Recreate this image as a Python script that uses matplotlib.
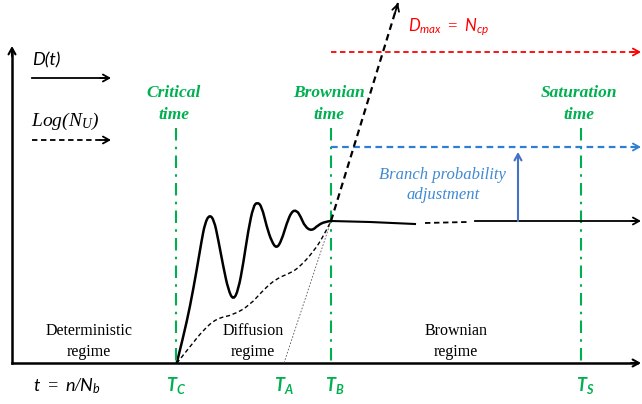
# -*- coding: utf-8 -*-
'''
Schematic of the regimes of D(t) and Log(N_U) versus time t = n/N_b
(deterministic, diffusion and Brownian regimes).
'''

import matplotlib.pyplot as plt
from matplotlib.path import Path
from matplotlib.patches import PathPatch

# =============================================================================
# schematic coordinates (x: time, y: down from the top)
# =============================================================================
t_c, t_a, t_b, t_s = 176, 284, 331, 581
y_base = 363
y_plateau = 221
y_dmax = 52
y_adjusted = 147
x_start, x_end = 12, 641
y_top = 46
y_marker_top = 128

# D(t): oscillating rise between T_C and T_B
d_x = [176.7, 183.3, 190.0, 196.7, 201.7, 205.0, 209.3, 214.0, 218.3, 223.3,
       228.3, 233.3, 238.3, 243.3, 248.3, 253.3, 257.3, 261.7, 266.7, 271.7,
       276.7, 281.7, 286.7, 291.7, 296.7, 300.7, 305.0, 311.7, 318.3, 325.0,
       331.0]
d_y = [363.3, 336.7, 306.7, 270.0, 240.0, 223.3, 214.7, 219.7, 240.0, 266.7,
       290.0, 300.3, 290.0, 263.3, 230.0, 206.3, 202.0, 206.3, 226.7, 241.7,
       248.7, 240.0, 223.3, 211.3, 210.3, 216.7, 226.7, 231.0, 225.0, 221.7,
       221.0]
# D(t) after T_B: plateau (solid, dashed, solid)
flat1_x, flat1_y = [331, 370, 415], [221, 222, 224]
flat2_x, flat2_y = [425, 467], [223, 222]
flat3_x, flat3_y = [475, 641], [221, 221]

# Log(N_U) in the diffusion regime
logn_x = [176.7, 190.0, 203.3, 216.7, 233.3, 250.0, 263.3, 276.7, 290.0,
          300.0, 313.3, 323.3, 331.0]
logn_y = [363.3, 346.7, 330.0, 318.3, 315.0, 305.0, 290.0, 278.3, 273.3,
          266.7, 251.7, 236.7, 221.0]
# steep Log(N_U) growth without adjustment: from T_A through T_B upward
steep_x, steep_y = [t_a, t_b, 398], [y_base, y_plateau, 3]

# blue adjustment arrow
adj_x = 518

GREEN = '#00B050'
RED = '#FF0000'
BLUE = '#2E7FD3'
BLUE_TXT = '#3F8AD2'
BLUE_ARR = '#4472C4'

plt.rcParams['mathtext.fontset'] = 'custom'
plt.rcParams['mathtext.it'] = 'Lato:italic'
plt.rcParams['mathtext.bf'] = 'Lato:bold:italic'
plt.rcParams['mathtext.rm'] = 'Liberation Serif:italic'
plt.rcParams['mathtext.sf'] = 'Lato'


def arrow_head(ax, x0, y0, x1, y1, color='k', lw=1.3):
    ''' open chevron head at (x1, y1) pointing from (x0, y0)'''
    ax.annotate('', xy=(x1, y1), xytext=(x0, y0),
                arrowprops=dict(arrowstyle='->,head_length=0.45,'
                                'head_width=0.25',
                                color=color, lw=lw,
                                shrinkA=0, shrinkB=0))


def smooth_curve(ax, xs, ys, **kw):
    ''' quadratic bezier through the midpoints, read points as controls'''
    pts = list(zip(xs, ys))
    verts = [pts[0]]
    codes = [Path.MOVETO]
    for i in range(1, len(pts) - 1):
        mid = ((pts[i][0] + pts[i + 1][0]) / 2.,
               (pts[i][1] + pts[i + 1][1]) / 2.)
        if i == len(pts) - 2:
            mid = pts[-1]
        verts += [pts[i], mid]
        codes += [Path.CURVE3, Path.CURVE3]
    ax.add_patch(PathPatch(Path(verts, codes), fill=False, **kw))


fig = plt.figure(figsize=(6.42, 4.04), dpi=100)
ax = fig.add_axes([0, 0, 1, 1])
ax.set_xlim(0, 642)
ax.set_ylim(404, 0)
ax.axis('off')

# axes
ax.plot([x_start, x_end - 4], [y_base, y_base], color='k', lw=1.8)
arrow_head(ax, x_end - 10, y_base, x_end, y_base, lw=1.5)
ax.plot([x_start, x_start], [y_base, y_top + 4], color='k', lw=1.8)
arrow_head(ax, x_start, y_top + 10, x_start, y_top, lw=1.5)

# legend arrows
ax.plot([32, 108], [78, 78], color='k', lw=1.3)
arrow_head(ax, 100, 78, 111, 78)
ax.plot([32, 108], [140, 140], color='k', lw=1.3, ls=(0, (3, 2)))
arrow_head(ax, 100, 140, 111, 140)
ax.text(32, 60, 'D(t)', fontsize=13, family='Lato', style='italic',
        va='center', ha='left')
ax.text(31, 121, r'$\mathrm{Log(N_U)}$', fontsize=14, va='center', ha='left')

# green time markers
for x_ in [t_c, t_b, t_s]:
    ax.plot([x_, x_], [y_marker_top, y_base], color=GREEN, lw=1.5,
            ls=(0, (6, 3, 1.2, 3)))
for x_, name in [(t_c, 'Critical'), (t_b, 'Brownian'), (t_s, 'Saturation')]:
    ax.text(x_ - 2, 93, name, color=GREEN, fontsize=12.5,
            family='Liberation Serif', weight='bold', style='italic',
            ha='center', va='center')
    ax.text(x_ - 2, 115, 'time', color=GREEN, fontsize=12.5,
            family='Liberation Serif', weight='bold', style='italic',
            ha='center', va='center')

# time labels
ax.text(33, 386, r'$t\;=\;n/N_b$', fontsize=13, va='center', ha='left')
for x_, lab in [(t_c, 'C'), (t_a, 'A'), (t_b + 4, 'B'), (t_s + 4, 'S')]:
    ax.text(x_, 386, r'$\mathbf{T_%s}$' % lab, color=GREEN, fontsize=13,
            ha='center', va='center')

# red and blue horizontal limits
ax.plot([t_b, x_end - 4], [y_dmax, y_dmax], color=RED, lw=1.3,
        ls=(0, (3, 2)))
arrow_head(ax, x_end - 10, y_dmax, x_end, y_dmax, color=RED)
ax.text(408, 27, r'$D_{max}\;=\;N_{cp}$', color=RED, fontsize=12,
        ha='left', va='center')
ax.plot([t_b, x_end - 4], [y_adjusted, y_adjusted], color=BLUE, lw=1.6,
        ls=(0, (3, 2)))
arrow_head(ax, x_end - 10, y_adjusted, x_end, y_adjusted, color=BLUE)

# D(t)
smooth_curve(ax, d_x, d_y, edgecolor='k', lw=1.8)
ax.plot(flat1_x, flat1_y, color='k', lw=1.5)
ax.plot(flat2_x, flat2_y, color='k', lw=1.3, ls=(0, (3, 2)))
ax.plot(flat3_x[:1] + [flat3_x[1] - 4], flat3_y, color='k', lw=1.3)
arrow_head(ax, flat3_x[1] - 10, flat3_y[1], flat3_x[1], flat3_y[1])

# Log(N_U)
smooth_curve(ax, logn_x, logn_y, edgecolor='k', lw=1.0, ls=(0, (3, 2)))
ax.plot(steep_x[:2], steep_y[:2], color='#555555', lw=0.6, ls=(0, (2, 2)))
ax.plot(steep_x[1:], steep_y[1:], color='k', lw=1.6, ls=(0, (3, 2)))
arrow_head(ax, 395, 13, steep_x[2], steep_y[2])

# branch probability adjustment
ax.plot([adj_x, adj_x], [y_plateau, y_adjusted + 8], color=BLUE_ARR, lw=1.5)
arrow_head(ax, adj_x, y_adjusted + 14, adj_x, y_adjusted + 5,
           color=BLUE_ARR, lw=1.5)
ax.text(442, 175, 'Branch probability', color=BLUE_TXT, fontsize=12,
        family='Liberation Serif', style='italic', ha='center', va='center')
ax.text(443, 195, 'adjustment', color=BLUE_TXT, fontsize=12,
        family='Liberation Serif', style='italic', ha='center', va='center')

# regime labels
for x_, word in [(89, 'Deterministic'), (253, 'Diffusion'), (456, 'Brownian')]:
    ax.text(x_, 331, word, fontsize=11.5, family='Liberation Serif',
            ha='center', va='center')
    ax.text(x_, 352, 'regime', fontsize=11.5, family='Liberation Serif',
            ha='center', va='center')

fig.savefig('out.png', dpi=100)
